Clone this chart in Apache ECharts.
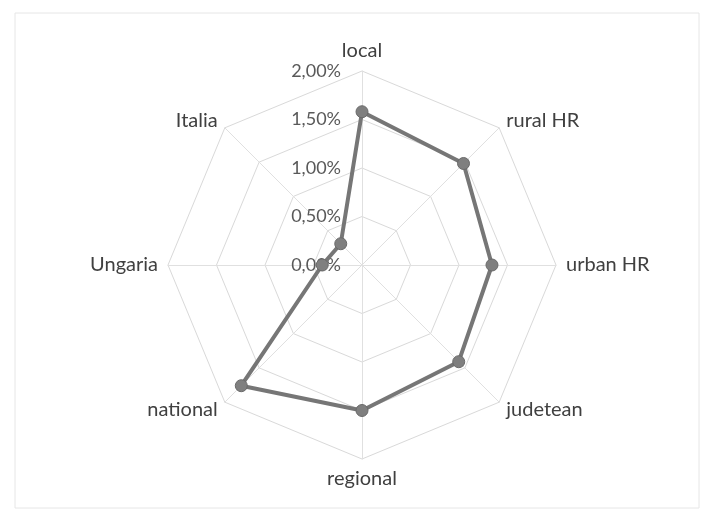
<!DOCTYPE html>
<html>
<head>
<meta charset="utf-8">
<script src="https://cdn.jsdelivr.net/npm/echarts@6/dist/echarts.min.js"></script>
<style>
html,body{margin:0;padding:0;background:#fff;}
#chart{width:703px;height:510px;}
</style>
</head>
<body>
<div id="chart"></div>
<script>
// categories in clockwise order starting at top
var categories = ['local', 'rural HR', 'urban HR', 'judetean', 'regional', 'national', 'Ungaria', 'Italia'];
// values in percent
var values = [1.58, 1.48, 1.34, 1.41, 1.50, 1.76, 0.41, 0.31];
var axisMax = 2;
var tickCount = 4;

// ECharts radar places indicators counter-clockwise; reorder to draw clockwise
var order = [0];
for (var i = categories.length - 1; i > 0; i--) order.push(i);
var indicators = order.map(function (k, j) {
  var ind = { name: categories[k], min: 0, max: axisMax };
  ind.axisLabel = { show: j === 0 };
  return ind;
});
var seriesValues = order.map(function (k) { return values[k]; });

var chart = echarts.init(document.getElementById('chart'), null, { renderer: 'canvas' });
chart.setOption({
  backgroundColor: '#ffffff',
  animation: false,
  graphic: [{
    type: 'rect',
    shape: { x: 15, y: 13, width: 684, height: 495 },
    style: { fill: 'none', stroke: '#e6e6e6', lineWidth: 1 },
    silent: true
  }],
  radar: {
    center: [362, 265],
    radius: 194,
    startAngle: 90,
    shape: 'polygon',
    splitNumber: tickCount,
    nameGap: 10,
    axisName: {
      color: '#404040',
      fontSize: 20,
      fontFamily: 'Lato, "Open Sans", sans-serif'
    },
    axisLine: { show: true, lineStyle: { color: '#e0e0e0', width: 1 } },
    splitLine: { lineStyle: { color: '#d9d9d9', width: 1 } },
    splitArea: { show: false },
    axisTick: { show: false },
    axisLabel: {
      show: false,
      color: '#595959',
      fontSize: 18,
      fontFamily: 'Lato, "Open Sans", sans-serif',
      margin: 21,
      formatter: function (v) { return v.toFixed(2).replace('.', ',') + '%'; }
    },
    indicator: indicators
  },
  series: [{
    type: 'radar',
    symbol: 'circle',
    symbolSize: 12,
    lineStyle: { color: '#767676', width: 4 },
    itemStyle: { color: '#7f7f7f', borderColor: '#6a6a6a', borderWidth: 1 },
    data: [{ value: seriesValues, name: 'serie' }]
  }]
});
</script>
</body>
</html>
